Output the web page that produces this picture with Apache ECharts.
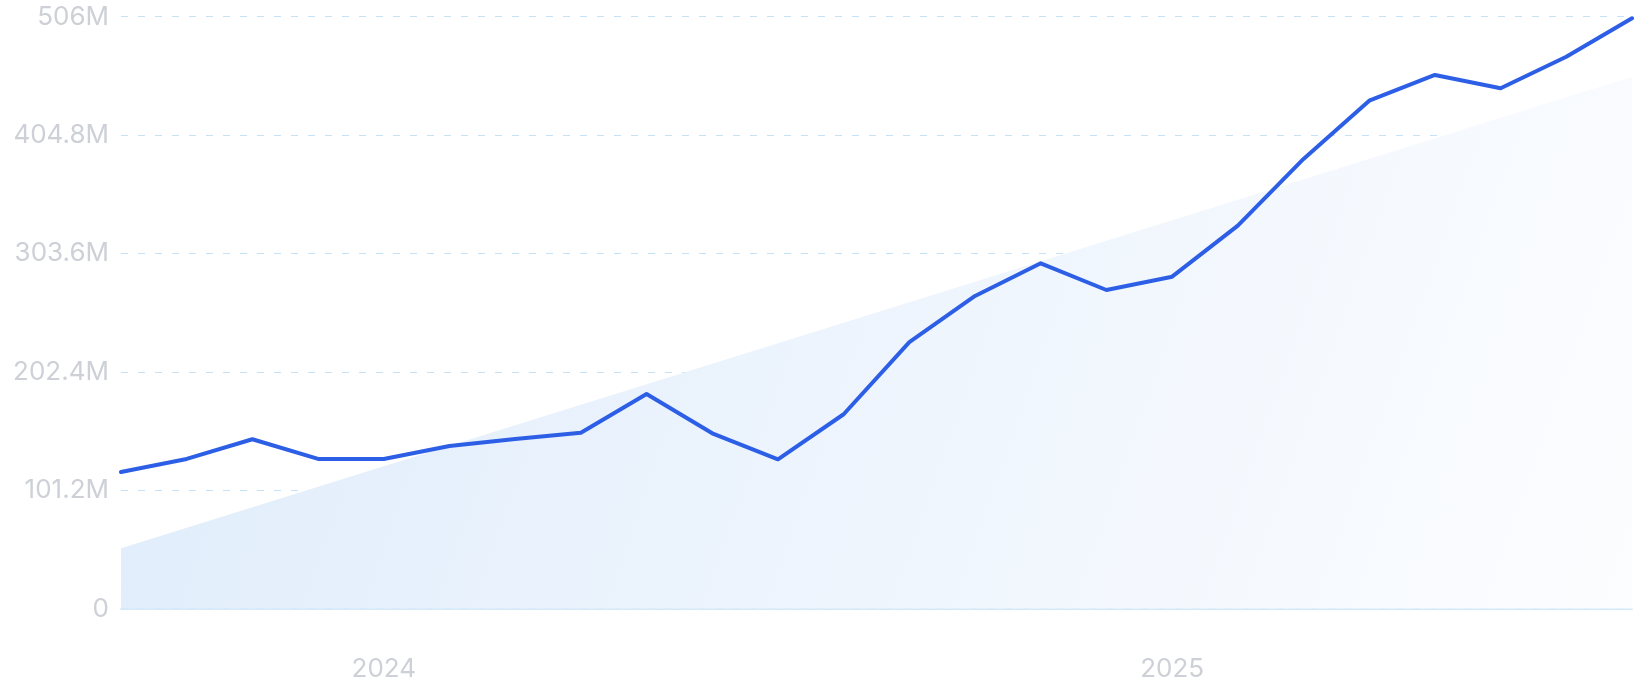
<!DOCTYPE html>
<html>
<head>
<meta charset="utf-8">
<style>
  html, body { margin: 0; padding: 0; background: #ffffff; }
  #chart { width: 1636px; height: 700px; }
</style>
<script src="https://cdn.jsdelivr.net/npm/echarts@6/dist/echarts.min.js"></script>
</head>
<body>
<div id="chart"></div>
<script>
// Monthly categories (Sep 2023 – Aug 2025)
const categories = [
  '2023-09','2023-10','2023-11','2023-12',
  '2024-01','2024-02','2024-03','2024-04','2024-05','2024-06',
  '2024-07','2024-08','2024-09','2024-10','2024-11','2024-12',
  '2025-01','2025-02','2025-03','2025-04','2025-05','2025-06',
  '2025-07','2025-08'
];
// Values in millions
const values = [
  116.8, 128.0, 144.8, 128.0,
  128.0, 139.1, 145.0, 150.4, 183.5, 149.9,
  127.7, 166.2, 227.8, 267.3, 295.2, 272.4,
  283.8, 327.4, 384.4, 434.2, 456.2, 444.8,
  471.8, 504.6
];
// Trend endpoints (millions)
const trendStart = 51.6;
const trendEnd = 454.7;
// Y axis ticks
const yMax = 506;
const yInterval = 101.2;

const chart = echarts.init(document.getElementById('chart'), null, { renderer: 'canvas' });

const labelFont = {
  color: '#cdd0d6',
  fontFamily: 'Inter',
  fontWeight: 'normal',
  fontSize: 26
};

chart.setOption({
  animation: false,
  grid: { left: 121, right: 4, top: 16.7, bottom: 91.3, containLabel: false },
  xAxis: {
    type: 'category',
    data: categories,
    boundaryGap: false,
    axisLine: { show: true, lineStyle: { color: '#c6e2f8', width: 1.5 } },
    axisTick: { show: false },
    splitLine: { show: false },
    axisLabel: Object.assign({
      margin: 47,
      interval: function (i, v) { return v.slice(5) === '01'; },
      formatter: function (v) { return v.slice(0, 4); }
    }, labelFont)
  },
  yAxis: {
    type: 'value',
    min: 0,
    max: yMax,
    interval: yInterval,
    axisLine: { show: false },
    axisTick: { show: false },
    splitLine: { show: true, lineStyle: { color: '#c4e3f6', width: 1, type: [7, 10] } },
    axisLabel: Object.assign({
      margin: 12,
      formatter: function (v) {
        const r = Math.round(v * 10) / 10;
        return r === 0 ? '0' : r + 'M';
      }
    }, labelFont)
  },
  series: [
    {
      name: 'trend',
      type: 'line',
      data: [[categories[0], trendStart], [categories[categories.length - 1], trendEnd]],
      symbol: 'none',
      lineStyle: { width: 0 },
      areaStyle: {
        opacity: 1,
        color: new echarts.graphic.LinearGradient(0, 0, 1, 1, [
          { offset: 0, color: '#dfecfb' },
          { offset: 1, color: '#fcfdff' }
        ])
      },
      z: 1,
      silent: true
    },
    {
      name: 'value',
      type: 'line',
      data: values,
      symbol: 'none',
      lineStyle: { color: '#2d5fe6', width: 4, cap: 'round', join: 'round' },
      z: 3
    }
  ]
});
</script>
</body>
</html>
